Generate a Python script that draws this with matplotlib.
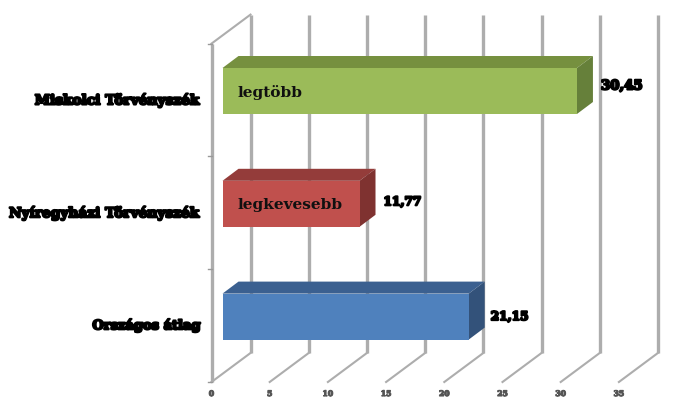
import matplotlib
matplotlib.use("Agg")
import matplotlib.pyplot as plt
import matplotlib.patheffects as pe
from matplotlib.patches import Polygon

categories = ["Országos átlag", "Nyíregyházi Törvényszék", "Miskolci Törvényszék"]
values = [21.15, 11.77, 30.45]
value_labels = ["21,15", "11,77", "30,45"]
inner_labels = ["", "legkevesebb", "legtöbb"]
front_colors = ["#4F81BD", "#C0504D", "#9BBB59"]
top_colors = ["#3B6090", "#943C3A", "#76903F"]
side_colors = ["#33527A", "#7F3230", "#66803A"]
x_ticks = [0, 5, 10, 15, 20, 25, 30, 35]

W, H = 673, 407
X0, PX_PER_UNIT = 211.5, 11.64
Y_BOTTOM, PX_PER_CAT = 382.0, 112.8
LABEL_NUDGE = [(6, -2), (8, 0), (8, 3)]
VALUE_SIZES = [8.7, 8.7, 9.6]
CAT_SIZES = [9.4, 9.9, 9.9]

fig = plt.figure(figsize=(W / 100, H / 100), dpi=100, facecolor="white")
ax = fig.add_axes([0, 0, 1, 1])
ax.set_xlim(-X0 / PX_PER_UNIT, (W - X0) / PX_PER_UNIT)
ax.set_ylim((Y_BOTTOM - H) / PX_PER_CAT, Y_BOTTOM / PX_PER_CAT)
ax.axis("off")

dxu = lambda px: px / PX_PER_UNIT
dyu = lambda px: px / PX_PER_CAT

GRID = "#ADADAD"
ymax = len(categories)
wall_dx, wall_dy = dxu(39), dyu(29)

for t in x_ticks:
    ax.plot([t + wall_dx, t + wall_dx], [wall_dy, ymax + wall_dy],
            color=GRID, lw=2.4, solid_capstyle="butt", zorder=1)
    ax.plot([t, t + wall_dx], [0, wall_dy], color=GRID, lw=1.5, zorder=1)
    ax.annotate(str(t), (t, 0), xytext=(0, -12), textcoords="offset pixels",
                ha="center", va="center", fontsize=5.5, color="#555555",
                family="DejaVu Serif", weight="bold",
                path_effects=[pe.withStroke(linewidth=0.8, foreground="#555555")])

ax.plot([0, 0], [0, ymax], color=GRID, lw=2.4, solid_capstyle="butt", zorder=1)
ax.plot([0, wall_dx], [ymax, ymax + wall_dy], color=GRID, lw=1.5, zorder=1)
for i in range(ymax + 1):
    ax.plot([-dxu(4), 0], [i, i], color="#999999", lw=1.0, zorder=1)

bar_dx, bar_dy = dxu(16), dyu(12)
bar_start = dxu(11)
bar_half = dyu(23)
bar_shift = dyu(9)
stroke = [pe.withStroke(linewidth=1.5, foreground="black")]
for i, (cat, v) in enumerate(zip(categories, values)):
    yc = i + 0.5 + bar_shift
    y0, y1 = yc - bar_half, yc + bar_half
    x0, x1 = bar_start, v + bar_start
    ax.add_patch(Polygon([(x0, y1), (x1, y1), (x1 + bar_dx, y1 + bar_dy), (x0 + bar_dx, y1 + bar_dy)],
                         fc=top_colors[i], ec="none", zorder=3))
    ax.add_patch(Polygon([(x1, y0), (x1 + bar_dx, y0 + bar_dy), (x1 + bar_dx, y1 + bar_dy), (x1, y1)],
                         fc=side_colors[i], ec="none", zorder=3))
    ax.add_patch(Polygon([(x0, y0), (x1, y0), (x1, y1), (x0, y1)],
                         fc=front_colors[i], ec="none", zorder=4))
    ax.annotate(cat, (0, i + 0.5), xytext=(-12, 0), textcoords="offset pixels",
                ha="right", va="center", fontsize=CAT_SIZES[i], family="DejaVu Serif", weight="bold",
                color="black", path_effects=stroke, zorder=5)
    ax.annotate(value_labels[i], (x1 + bar_dx, yc + dyu(2)), xytext=LABEL_NUDGE[i], textcoords="offset pixels",
                ha="left", va="center", fontsize=VALUE_SIZES[i], family="DejaVu Serif", weight="bold",
                color="black", path_effects=stroke, zorder=5)
    if inner_labels[i]:
        ax.annotate(inner_labels[i], (x0, yc), xytext=(15, -1), textcoords="offset pixels",
                    ha="left", va="center", fontsize=11.1, family="DejaVu Serif", weight="bold",
                    color="#101010", zorder=6)

fig.savefig("out.png", dpi=100, facecolor="white")
